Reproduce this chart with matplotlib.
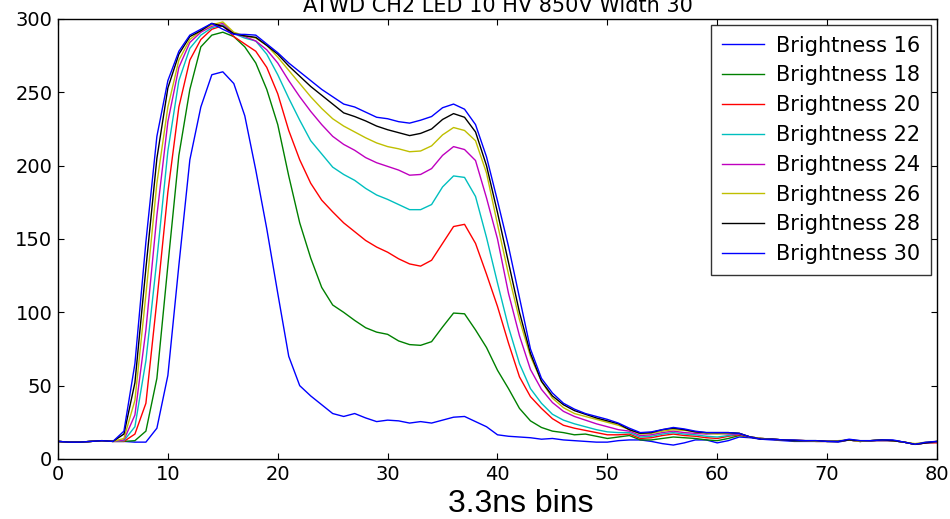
"""
ATWD CH2 waveform vs LED brightness (LED 10, HV 850V, width 30).
"""

import matplotlib
matplotlib.use("Agg")
import matplotlib.pyplot as plt
import numpy as np

TITLE = "ATWD CH2 LED 10 HV 850V Width 30"
XLABEL = "3.3ns bins"

bins = np.arange(81)

# flat pedestal before the pulse, same for every brightness
lead = [12, 11.5, 11.5, 12, 12.5, 12]

b16 = lead + [12, 11.5, 11.5, 21, 57, 132, 204, 240, 262, 264, 256, 234, 197, 157, 113,
              70, 50, 43, 37, 31, 29, 31, 28, 25.5, 26.5, 26, 24.5, 25.5, 24.5, 26.5,
              28.5, 29, 25.5, 22, 16.5, 15.5, 15, 14.5, 13.5, 14, 13, 12.5, 12, 11.5,
              11.5, 12.5, 13, 13, 12, 10.5, 9.5, 11, 13, 13, 11, 12.5, 15, 14.5, 13.5,
              13, 12.5, 12, 12, 12, 12, 11.5, 13, 12, 12.5, 13, 12.5, 11.5, 10, 11, 12]
b18 = lead + [12, 12.5, 19, 55, 132, 207, 252, 281, 289, 291, 288, 281, 270, 252, 228,
              193, 161, 137, 117, 105, 100, 94.5, 89.5, 86.5, 85, 80.5, 78, 77.5, 80, 90,
              99.5, 99, 88, 76, 60.5, 48, 34.5, 26, 21.5, 19, 18, 16.5, 17, 15.5,
              14, 15, 16, 13, 13, 14, 15, 14.5, 14, 13, 12.5, 14, 16, 15, 14,
              13.5, 13, 12.5, 12.5, 12.5, 12, 12, 13, 12, 12.5, 12.5, 12.5, 11.5, 10, 11, 11.5]
b20 = lead + [12, 17, 38, 108, 182, 240, 272, 286, 293, 295.5, 288, 283, 278, 267, 249,
              224, 204, 188, 176.5, 168.5, 161, 155, 149, 144.5, 141, 136.5, 133, 131.5, 135.5, 147,
              158.5, 160, 147, 126, 104, 79, 56, 42.5, 34.5, 27.5, 23, 21, 19.5, 18,
              16.5, 16.5, 17, 14, 14.5, 16, 17, 16, 15.5, 14.5, 14, 15.5, 16.5, 15, 14,
              13.5, 13, 12.5, 12.5, 12, 12, 12, 13, 12, 12.5, 13, 12.5, 11.5, 10, 11, 11]
b22 = lead + [12.5, 22, 67, 136, 210, 258, 280, 289, 294, 296, 290, 287, 285, 276, 262,
              246, 231, 217, 208, 199, 194, 190, 184.5, 180, 177, 173.5, 170, 170, 173.5, 185.5,
              193, 192, 179, 151, 120, 90, 65, 48, 38, 30.5, 26.5, 24, 22, 20,
              18.5, 18, 18, 15, 15.5, 17, 18, 17, 16.5, 15.5, 15, 16, 17, 15, 14,
              13.5, 13, 12.5, 12.5, 12.5, 12, 12, 13, 12, 12.5, 13, 12.5, 11.5, 10, 11, 11.5]
b24 = lead + [13, 30, 88, 166, 230, 267, 284, 291, 295, 297, 290, 288, 285, 279, 270,
              258, 247, 237, 228, 220, 214.5, 210.5, 205.5, 202, 199.5, 197, 193.5, 194, 198, 207,
              213, 211, 203.5, 178, 150, 113, 84, 61, 47.5, 38.5, 32.5, 29, 26.5, 24,
              22, 20, 19, 16, 16.5, 18, 19, 18, 17.5, 17, 17.5, 17, 17, 15, 14,
              13.5, 13, 13, 12.5, 12.5, 12, 12, 13, 12, 12.5, 12.5, 12.5, 11.5, 10, 11, 11.5]
b26 = lead + [14, 40, 112, 188, 240, 272, 286, 292, 296, 298, 291, 288.5, 287, 282, 274,
              265, 256, 247, 239, 232, 227, 223, 219, 215.5, 213, 211.5, 209.5, 210, 213.5, 221,
              226, 224, 217, 195, 160, 126, 95, 70, 53, 41.5, 35, 31, 29, 27,
              25, 23, 20, 17, 17.5, 19, 20, 19.5, 18.5, 17.5, 17, 17.5, 17.5, 15, 14,
              13.5, 13, 13, 12.5, 12, 12, 12.5, 13, 12, 12.5, 13, 12.5, 11.5, 10.5, 11.5, 12]
b28 = lead + [17, 52, 130, 205, 253, 276, 288, 292, 297, 295, 290, 288.5, 287.5, 282, 276,
              268, 261, 254, 248, 242, 236, 233.5, 230.5, 227, 224.5, 222.5, 220.5, 222, 225, 231.5,
              235.5, 233, 223, 200, 168, 134, 100, 72, 53, 43, 37, 33, 30.5, 28,
              26, 24, 20, 17.5, 18, 20, 21, 20, 18.5, 18, 18, 18, 17.5, 15, 13.5,
              13.5, 13, 12.5, 12.5, 12.5, 12, 12, 13, 12.5, 12.5, 13, 12.5, 11.5, 10, 11, 12]
b30 = lead + [19, 65, 148, 220, 258, 278, 289, 293, 297, 293, 289.5, 289.5, 289, 283, 277,
              270, 264, 258, 252, 247, 242, 240, 236.5, 233, 232, 230, 229, 231, 233.5, 239.5,
              242, 238.5, 228, 206, 176, 145, 110, 75, 55, 45, 38, 34, 31, 29,
              27, 24.5, 21, 18, 18.5, 20, 21.5, 20.5, 19, 18, 18, 18, 17.5, 15, 13.5,
              13.5, 13, 13, 12.5, 12.5, 12, 12, 13.5, 12.5, 12.5, 13, 13, 11.5, 10, 11.5, 12]

brightness = [16, 18, 20, 22, 24, 26, 28, 30]
series = [b16, b18, b20, b22, b24, b26, b28, b30]

# old matplotlib single-letter colour cycle: b g r c m y k b
COLORS = ["#0000FF", "#008000", "#FF0000", "#00BFBF",
          "#BF00BF", "#BFBF00", "#000000", "#0000FF"]


def main():
    fig = plt.figure(figsize=(9.5, 5.19), dpi=100, facecolor="white")
    ax = fig.add_axes([58 / 950, 1 - 459 / 519, 879 / 950, 440 / 519])

    for b, vals, col in zip(brightness, series, COLORS):
        ax.plot(bins, vals, color=col, lw=1.0, label=f"Brightness {b}")

    ax.set_xlim(0, 80)
    ax.set_ylim(0, 300)
    ax.set_xticks(np.arange(0, 81, 10))
    ax.set_yticks(np.arange(0, 301, 50))
    ax.tick_params(direction="in", top=True, right=True, length=4,
                   labelsize=14, pad=4)
    for sp in ax.spines.values():
        sp.set_linewidth(1.0)

    ax.set_title(TITLE, fontsize=15, pad=5)
    ax.set_xlabel(XLABEL, fontsize=23, family="Liberation Sans")
    ax.xaxis.set_label_coords(0.526, -0.068)

    leg = ax.legend(loc="upper right", fontsize=15, frameon=True, fancybox=False,
                    borderaxespad=0.3, handlelength=2.0, handletextpad=0.6,
                    labelspacing=0.47, borderpad=0.5)
    leg.get_frame().set_edgecolor("black")
    leg.get_frame().set_linewidth(1.0)

    fig.savefig("out.png", dpi=100, facecolor="white")
    plt.close(fig)


if __name__ == "__main__":
    main()
